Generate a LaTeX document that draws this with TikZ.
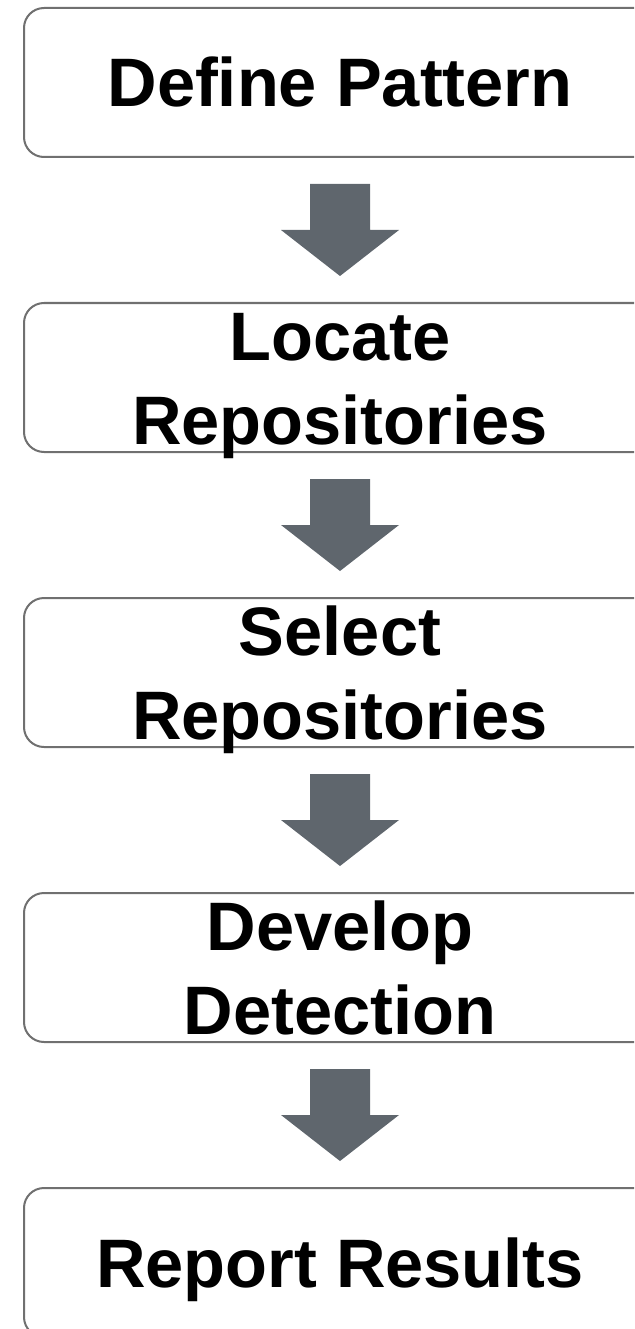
\documentclass[tikz,border=0pt]{standalone}
\usepackage{fontspec}
\setmainfont{Liberation Sans}
\usetikzlibrary{calc}
\definecolor{boxline}{HTML}{707070}
\definecolor{arrowfill}{HTML}{5F666D}
\tikzset{
  stepbox/.style={draw=boxline, line width=2pt, rounded corners=20pt, fill=white,
    minimum width=632pt, minimum height=149pt, inner sep=0pt, align=center,
    font=\fontsize{68.6}{84}\selectfont\bfseries, text=black},
  oneline/.style={text height=49pt, text depth=0pt},
  twoline/.style={text height=133pt, text depth=0pt},
  downarrow/.pic={
    \fill[arrowfill] (-30,-46) -- (30,-46) -- (30,0) -- (59,0) -- (0,46)
      -- (-59,0) -- (-30,0) -- cycle;
  }
}
\begin{document}
\begin{tikzpicture}[x=1pt, y=-1pt]
  \useasboundingbox (0,0) rectangle (634,1329);
  \clip (0,0) rectangle (634,1329);
  \node[stepbox, oneline] (s1) at (340,82.5)  {Define Pattern};
  \node[stepbox, twoline] (s2) at (340,377.5) {Locate\\Repositories};
  \node[stepbox, twoline] (s3) at (340,672.5) {Select\\Repositories};
  \node[stepbox, twoline] (s4) at (340,967.5) {Develop\\Detection};
  \node[stepbox, oneline] (s5) at (340,1262.5) {Report Results};
  \foreach \a/\b in {s1/s2, s2/s3, s3/s4, s4/s5} {
    \coordinate (m-\a) at ($(\a.south)!0.5!(\b.north)$);
    \pic at (m-\a) {downarrow};
  }
\end{tikzpicture}
\end{document}
